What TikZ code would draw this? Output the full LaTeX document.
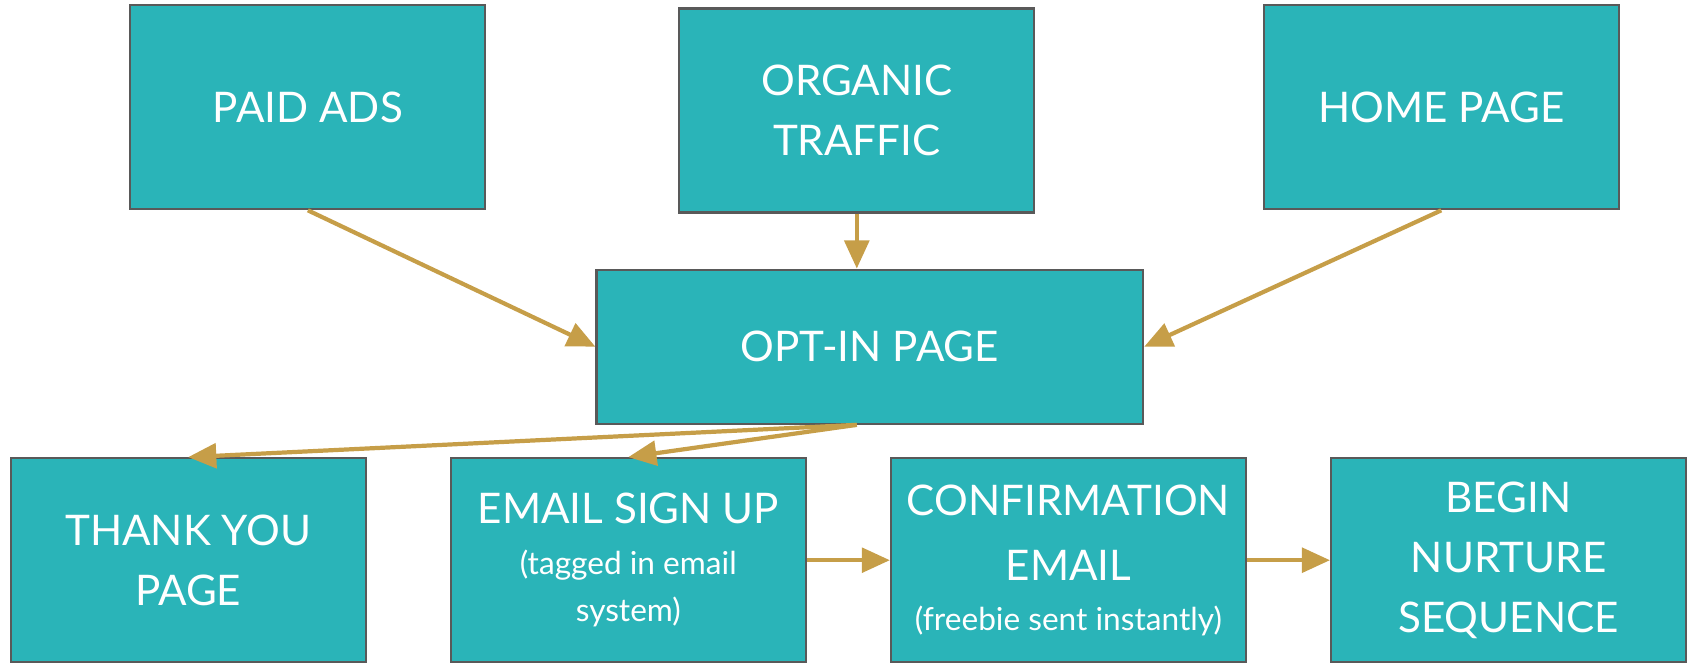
\documentclass[tikz,border=0pt]{standalone}
\usepackage{fontspec}
\setmainfont{Lato}
\usepackage{tikz}
\usetikzlibrary{arrows.meta, positioning}
\definecolor{funnelteal}{RGB}{42, 180, 184}
\definecolor{edgegray}{RGB}{89, 89, 89}
\definecolor{arrowgold}{RGB}{198, 158, 72}
\newcommand{\note}[1]{{\fontsize{9}{13}\selectfont #1}}

\begin{document}
\begin{tikzpicture}[
			node distance=0.83cm,
			stage/.style={rectangle, draw=edgegray, line width=0.6pt, fill=funnelteal, text=white, minimum width=3.55cm, minimum height=2.04cm, inner sep=0pt, align=center, font=\fontsize{12}{17}\selectfont},
			arrow/.style={-{Triangle[length=8pt, width=7pt]}, line width=1.2pt, draw=arrowgold}
		]
		\useasboundingbox (0,0) rectangle (16.91,6.64);
		% Traffic sources
		\node[stage] (paid) at (3.079,5.567) {PAID ADS};
		\node[stage] (organic) at (8.568,5.535) {ORGANIC\\TRAFFIC};
		\node[stage] (home) at (14.413,5.567) {HOME PAGE};
		\node[stage, minimum width=5.467cm, minimum height=1.542cm] (optin) at (8.698,3.173) {OPT-IN PAGE};
		
		% Follow-up steps
		\node[stage] (thanks) at (1.882,1.038) {THANK YOU\\PAGE};
		\node[stage, right=of thanks] (signup) {EMAIL SIGN UP\\[-2.5pt]\note{(tagged in email}\\[-3.6pt]\note{system)}};
		\node[stage, right=of signup] (confirm) {CONFIRMATION\\[1.5pt]EMAIL\\[-2.8pt]\note{(freebie sent instantly)}};
		\node[stage, right=of confirm] (nurture) {BEGIN\\NURTURE\\SEQUENCE};
		
		\coordinate (split) at (organic.south |- optin.south);
		
		\draw[arrow] (paid.south) -- (optin.west);
		\draw[arrow] (organic.south) -- (organic.south |- optin.north);
		\draw[arrow] (home.south) -- (optin.east);
		\draw[arrow] (split) -- (thanks.north);
		\draw[arrow] (split) -- (signup.north);
		\draw[arrow] (signup) -- (confirm);
		\draw[arrow] (confirm) -- (nurture);
		\end{tikzpicture}
\end{document}
